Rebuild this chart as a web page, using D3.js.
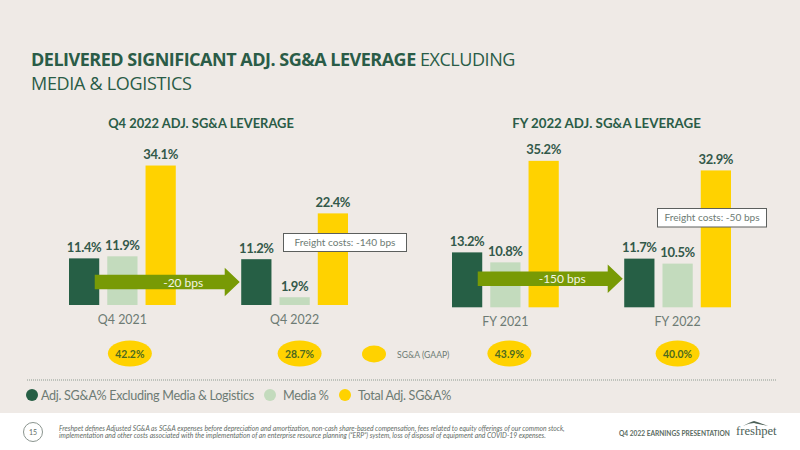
<!DOCTYPE html>
<html>
<head>
<meta charset="utf-8">
<script src="https://cdn.jsdelivr.net/npm/d3@7"></script>
<style>
  html, body { margin: 0; padding: 0; background: #fff; }
  svg { display: block; }
  text { font-family: Lato, sans-serif; }
</style>
</head>
<body>
<div id="chart"></div>
<script>
(function () {
  'use strict';

  var seriesNames = ['Adj. SG&A% Excluding Media & Logistics', 'Media %', 'Total Adj. SG&A%'];
  var seriesColors = ['#265f45', '#c3dbbd', '#ffd200'];

  var quarterGroups = ['Q4 2021', 'Q4 2022'];
  var quarterAdj = [11.4, 11.2];
  var quarterMedia = [11.9, 1.9];
  var quarterTotal = [34.1, 22.4];
  var quarterGaap = ['42.2%', '28.7%'];

  var yearGroups = ['FY 2021', 'FY 2022'];
  var yearAdj = [13.2, 11.7];
  var yearMedia = [10.8, 10.5];
  var yearTotal = [35.2, 32.9];
  var yearGaap = ['43.9%', '40.0%'];

  var darkGreen = '#2a5c47';
  var grey = '#6d7b74';
  var width = 800;
  var height = 450;

  var svg = d3.select('#chart').append('svg')
    .attr('width', width)
    .attr('height', height)
    .attr('viewBox', '0 0 ' + width + ' ' + height);

  svg.append('rect')
    .attr('width', width)
    .attr('height', 413)
    .attr('fill', '#efeae6');

  var title = svg.append('text')
    .attr('x', 31)
    .attr('y', 66)
    .attr('font-size', 18)
    .attr('fill', darkGreen)
    .style('font-family', '"Open Sans", sans-serif');
  title.append('tspan').attr('font-weight', 700).attr('letter-spacing', -0.5)
    .text('DELIVERED SIGNIFICANT ADJ. SG&A LEVERAGE');
  title.append('tspan').attr('letter-spacing', -0.45).text(' EXCLUDING');
  svg.append('text')
    .attr('x', 31)
    .attr('y', 90)
    .attr('font-size', 18)
    .attr('letter-spacing', -0.3)
    .attr('fill', darkGreen)
    .style('font-family', '"Open Sans", sans-serif')
    .text('MEDIA & LOGISTICS');

  function drawPanel(opts) {
    var x = d3.scaleBand()
      .domain(opts.groups)
      .range(opts.xRange)
      .paddingInner(0.38);
    var sub = d3.scaleBand()
      .domain(d3.range(seriesNames.length))
      .range([0, x.bandwidth()])
      .paddingInner(0.21);
    var y = d3.scaleLinear()
      .domain([0, 40])
      .range([opts.baseline, opts.baseline - 40 * opts.pxPerPoint]);

    var g = svg.append('g');

    g.append('text')
      .attr('x', opts.titleX)
      .attr('y', 127.5)
      .attr('text-anchor', 'middle')
      .attr('font-size', opts.titleSize)
      .attr('font-weight', 700)
      .attr('fill', darkGreen)
      .text(opts.title);

    var rows = [];
    opts.groups.forEach(function (group, i) {
      opts.values.forEach(function (values, s) {
        rows.push({ group: group, series: s, value: values[i] });
      });
    });

    g.selectAll('rect.bar')
      .data(rows)
      .enter().append('rect')
      .attr('class', 'bar')
      .attr('x', function (d) { return x(d.group) + sub(d.series); })
      .attr('y', function (d) { return y(d.value); })
      .attr('width', sub.bandwidth())
      .attr('height', function (d) { return y(0) - y(d.value); })
      .attr('fill', function (d) { return seriesColors[d.series]; });

    g.selectAll('text.value')
      .data(rows)
      .enter().append('text')
      .attr('class', 'value')
      .attr('x', function (d) { return x(d.group) + sub(d.series) + sub.bandwidth() / 2; })
      .attr('y', function (d) { return y(d.value) - 6.5; })
      .attr('text-anchor', 'middle')
      .attr('font-size', 13)
      .attr('letter-spacing', -0.35)
      .attr('font-weight', 700)
      .attr('fill', '#33594a')
      .text(function (d) { return d.value.toFixed(1) + '%'; });

    var axis = g.append('g')
      .attr('transform', 'translate(0,' + opts.baseline + ')')
      .call(d3.axisBottom(x).tickSize(0).tickPadding(opts.axisPadding));
    axis.select('.domain').remove();
    axis.selectAll('text')
      .style('font-family', 'Lato, sans-serif')
      .attr('font-size', 12.4)
      .attr('fill', grey);

    // arrow runs from the first dark bar to the second one
    var x0 = x(opts.groups[0]) + sub.bandwidth() - 4.5;
    var x1 = x(opts.groups[1]) - 1.5;
    var yc = opts.arrowY;
    g.append('path')
      .attr('d', d3.line()([
        [x0, yc - 7.2], [x1 - 15, yc - 7.2], [x1 - 15, yc - 14.2], [x1, yc],
        [x1 - 15, yc + 14.2], [x1 - 15, yc + 7.2], [x0, yc + 7.2]
      ]) + 'Z')
      .attr('fill', '#789a05');
    g.append('text')
      .attr('x', (x0 + x1) / 2 + opts.arrowLabelShift)
      .attr('y', yc + 4.5)
      .attr('text-anchor', 'middle')
      .attr('font-size', 12)
      .attr('fill', '#f3f5e4')
      .text(opts.arrowLabel);

    // freight note box
    g.append('rect')
      .attr('x', opts.note.x + 0.5)
      .attr('y', opts.note.y + 0.5)
      .attr('width', opts.note.w)
      .attr('height', opts.note.h)
      .attr('fill', '#fff')
      .attr('stroke', '#5c5f5d')
      .attr('stroke-width', 1);
    g.append('text')
      .attr('x', opts.note.x + opts.note.w / 2 + 0.5)
      .attr('y', opts.note.y + opts.note.h / 2 + 4)
      .attr('text-anchor', 'middle')
      .attr('font-size', 10.1)
      .attr('fill', grey)
      .text(opts.note.text);

    // GAAP bubbles below each group
    g.selectAll('ellipse.gaap')
      .data(opts.gaap)
      .enter().append('ellipse')
      .attr('class', 'gaap')
      .attr('cx', function (d, i) { return x(opts.groups[i]) + x.bandwidth() / 2 + opts.bubbleShift[i]; })
      .attr('cy', 353.5)
      .attr('rx', 22)
      .attr('ry', 13)
      .attr('fill', seriesColors[2]);
    g.selectAll('text.gaap')
      .data(opts.gaap)
      .enter().append('text')
      .attr('class', 'gaap')
      .attr('x', function (d, i) { return x(opts.groups[i]) + x.bandwidth() / 2 + opts.bubbleShift[i]; })
      .attr('y', 357.5)
      .attr('text-anchor', 'middle')
      .attr('font-size', 10.4)
      .attr('font-weight', 700)
      .attr('fill', '#4d6a1f')
      .text(function (d) { return d; });
  }

  drawPanel({
    title: 'Q4 2022 ADJ. SG&A LEVERAGE',
    titleX: 201,
    titleSize: 12.9,
    groups: quarterGroups,
    values: [quarterAdj, quarterMedia, quarterTotal],
    gaap: quarterGaap,
    bubbleShift: [7.5, 5],
    xRange: [69, 348],
    baseline: 305,
    pxPerPoint: 4.09,
    axisPadding: 10,
    arrowY: 282,
    arrowLabel: '-20 bps',
    arrowLabelShift: 16,
    note: { x: 283, y: 233, w: 123, h: 18, text: 'Freight costs: -140 bps' }
  });

  drawPanel({
    title: 'FY 2022 ADJ. SG&A LEVERAGE',
    titleX: 606.5,
    titleSize: 13.3,
    groups: yearGroups,
    values: [yearAdj, yearMedia, yearTotal],
    gaap: yearGaap,
    bubbleShift: [4, 0],
    xRange: [452, 731],
    baseline: 307.3,
    pxPerPoint: 4.16,
    axisPadding: 10,
    arrowY: 278.7,
    arrowLabel: '-150 bps',
    arrowLabelShift: 12,
    note: { x: 657, y: 208, w: 109, h: 18.5, text: 'Freight costs: -50 bps' }
  });

  // legend for the GAAP bubbles
  svg.append('ellipse')
    .attr('cx', 374)
    .attr('cy', 354)
    .attr('rx', 12)
    .attr('ry', 8.5)
    .attr('fill', seriesColors[2]);
  svg.append('text')
    .attr('x', 397)
    .attr('y', 358)
    .attr('font-size', 8.6)
    .attr('fill', grey)
    .text('SG&A (GAAP)');

  svg.append('line')
    .attr('x1', 27)
    .attr('x2', 777)
    .attr('y1', 380)
    .attr('y2', 380)
    .attr('stroke', '#8d9a90')
    .attr('stroke-width', 1)
    .attr('stroke-dasharray', '1 1');

  var legendDotX = [32, 270, 345];
  var legendTextX = [41, 283, 358];
  var legend = svg.selectAll('g.legend')
    .data(seriesNames)
    .enter().append('g')
    .attr('class', 'legend');
  legend.append('circle')
    .attr('cx', function (d, i) { return legendDotX[i]; })
    .attr('cy', 395)
    .attr('r', 6)
    .attr('fill', function (d, i) { return seriesColors[i]; });
  legend.append('text')
    .attr('x', function (d, i) { return legendTextX[i]; })
    .attr('y', 400)
    .attr('font-size', 12.6)
    .attr('letter-spacing', -0.32)
    .attr('fill', grey)
    .text(function (d) { return d; });

  // footer
  svg.append('circle')
    .attr('cx', 33)
    .attr('cy', 432)
    .attr('r', 9.5)
    .attr('fill', 'none')
    .attr('stroke', '#8b958f')
    .attr('stroke-width', 1);
  svg.append('text')
    .attr('x', 33)
    .attr('y', 434.5)
    .attr('text-anchor', 'middle')
    .attr('font-size', 7)
    .attr('fill', '#5f6b65')
    .text('15');

  var footnotes = [
    'Freshpet defines Adjusted SG&A as SG&A expenses before depreciation and amortization, non-cash share-based compensation, fees related to equity offerings of our common stock,',
    'implementation and other costs associated with the implementation of an enterprise resource planning (\u201cERP\u201d) system, loss of disposal of equipment and COVID-19 expenses.'
  ];
  svg.selectAll('text.footnote')
    .data(footnotes)
    .enter().append('text')
    .attr('class', 'footnote')
    .attr('x', 59)
    .attr('y', function (d, i) { return 431 + i * 7.4; })
    .attr('font-size', 6.8)
    .attr('font-style', 'italic')
    .attr('fill', '#5f6b65')
    .text(function (d) { return d; });

  svg.append('text')
    .attr('x', 619)
    .attr('y', 436)
    .attr('font-size', 6.6)
    .attr('font-weight', 700)
    .attr('fill', '#5a6b62')
    .text('Q4 2022 EARNINGS PRESENTATION');

  svg.append('text')
    .attr('x', 736)
    .attr('y', 435)
    .attr('font-size', 12.6)
    .attr('fill', '#4d6158')
    .style('font-family', '"Liberation Serif", serif')
    .text('freshpet');
  svg.append('path')
    .attr('d', 'M743 426 Q750 422 754 421 Q760 423 768 426 Q758 424 754 423 Q749 423 743 426Z')
    .attr('fill', '#4d6158');
})();
</script>
</body>
</html>
